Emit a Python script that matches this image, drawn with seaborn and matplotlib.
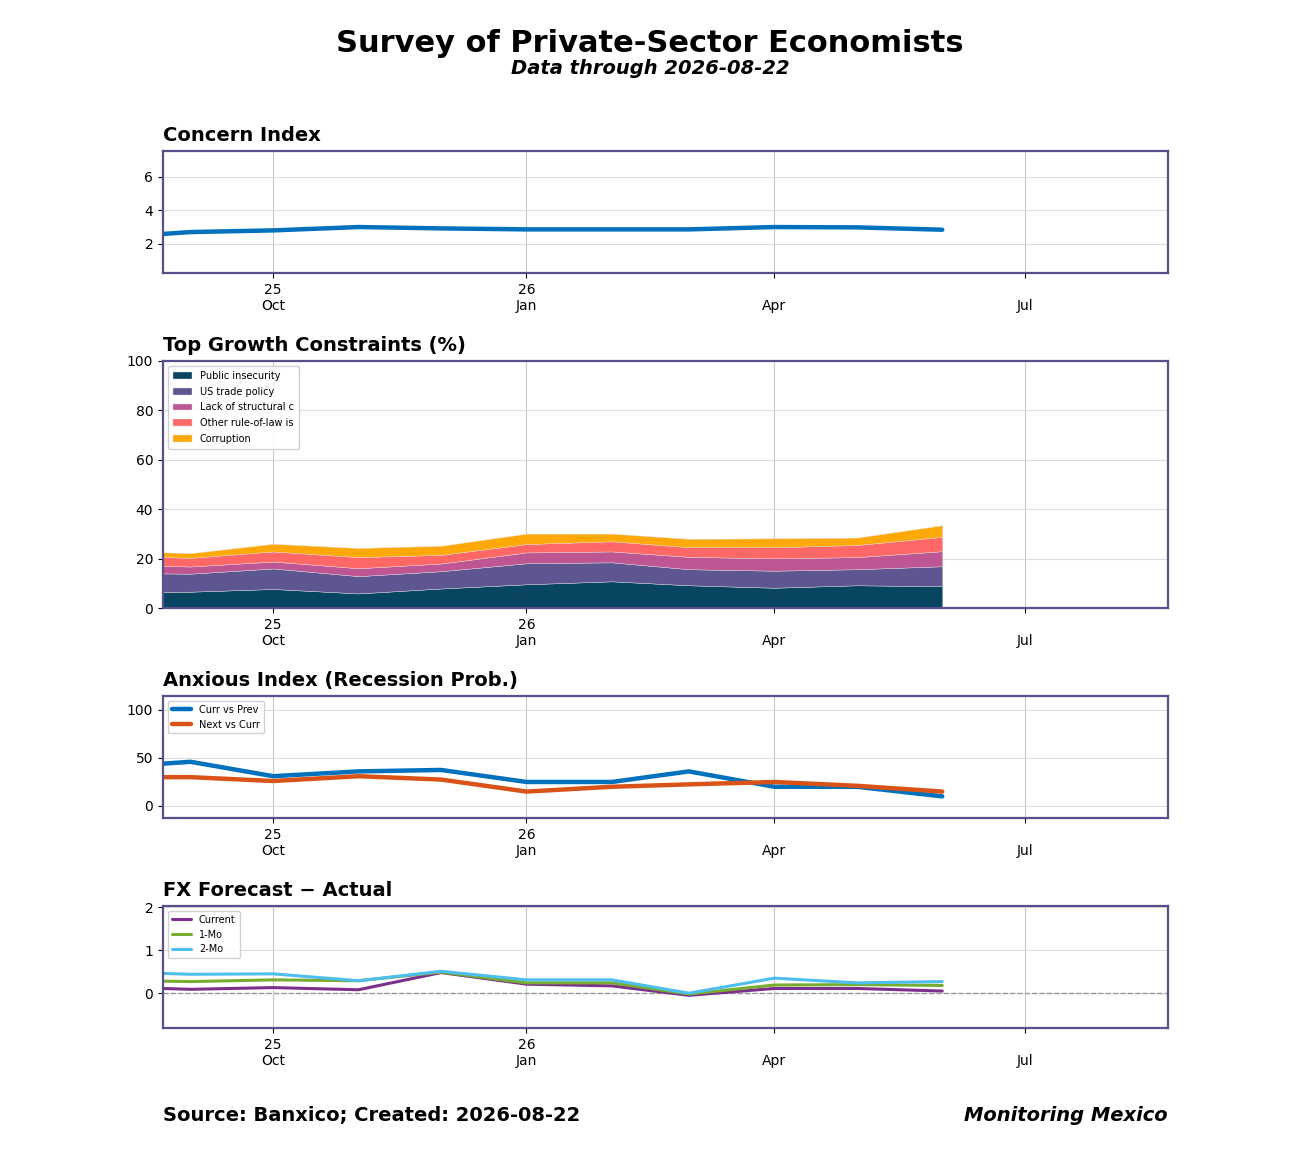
import numpy as np
import pandas as pd
import matplotlib
matplotlib.use("Agg")
import matplotlib.pyplot as plt
import seaborn as sns

# ---------------- data ----------------
dates = ["2025-08-01", "2025-09-01", "2025-10-01", "2025-11-01", "2025-12-01",
         "2026-01-01", "2026-02-01", "2026-03-01", "2026-04-01", "2026-05-01", "2026-06-01"]

concern = [2.35, 2.70, 2.80, 3.00, 2.92, 2.86, 2.86, 2.86, 3.00, 2.98, 2.84]

public_insecurity = [6.3, 6.6, 7.7, 5.9, 7.9, 9.6, 10.8, 9.2, 8.2, 9.2, 8.8]
us_trade_policy   = [7.9, 7.3, 8.3, 7.0, 7.0, 8.5, 7.7, 6.5, 6.9, 6.5, 8.1]
lack_structural   = [3.3, 2.9, 2.8, 3.2, 3.1, 4.4, 4.4, 5.0, 5.0, 4.9, 6.1]
other_rule_of_law = [3.9, 3.5, 4.1, 4.5, 3.5, 3.4, 4.1, 3.9, 4.5, 4.9, 5.8]
corruption        = [1.9, 1.9, 3.1, 3.7, 3.7, 4.2, 3.1, 3.4, 3.6, 3.0, 4.7]
constraint_labels = ["Public insecurity", "US trade policy", "Lack of structural c",
                     "Other rule-of-law is", "Corruption"]

curr_vs_prev = [40, 46, 31, 36, 37.5, 25, 25, 36, 20, 20, 10]
next_vs_curr = [30, 30, 26, 31, 27.5, 15, 20, 22.5, 25, 21, 15]

fx_current = [0.15, 0.09, 0.13, 0.08, 0.48, 0.21, 0.17, -0.05, 0.11, 0.11, 0.05]
fx_1mo     = [0.30, 0.27, 0.31, 0.29, 0.49, 0.24, 0.24, -0.02, 0.19, 0.20, 0.18]
fx_2mo     = [0.50, 0.44, 0.45, 0.29, 0.51, 0.31, 0.31, 0.00, 0.35, 0.24, 0.27]

tick_dates = ["2025-10-01", "2026-01-01", "2026-04-01", "2026-07-01"]
tick_labels = ["25\nOct", "26\nJan", "\nApr", "\nJul"]
x_start, x_end = "2025-08-22", "2026-08-22"

# ---------------- style ----------------
sns.set_theme(style="white")
plt.rcParams["font.family"] = ["DejaVu Sans"]
plt.rcParams["text.color"] = "black"
plt.rcParams["axes.labelcolor"] = "black"
plt.rcParams["axes.titlecolor"] = "black"
plt.rcParams["xtick.color"] = "black"
plt.rcParams["ytick.color"] = "black"

dt = pd.to_datetime(dates)
xt = pd.to_datetime(tick_dates)
frame_color = "#58508d"

fig = plt.figure(figsize=(13, 11.5), dpi=100)
L, W = 0.1254, 0.7731
ax1 = fig.add_axes([L, 0.7626, W, 0.1061])
ax2 = fig.add_axes([L, 0.4713, W, 0.2148])
ax3 = fig.add_axes([L, 0.2887, W, 0.1061])
ax4 = fig.add_axes([L, 0.1061, W, 0.1061])


def style_axis(ax, title):
    ax.set_xlim(pd.Timestamp(x_start), pd.Timestamp(x_end))
    ax.set_xticks(xt)
    ax.set_xticklabels(tick_labels, fontsize=10)
    ax.tick_params(axis="both", which="both", bottom=True, left=True, length=3.5,
                   width=0.8, colors="black", labelsize=10)
    ax.grid(True, axis="y", color="#dddddd", linewidth=0.8)
    ax.grid(True, axis="x", color="#c8c8c8", linewidth=0.8)
    ax.set_axisbelow(True)
    for s in ax.spines.values():
        s.set_visible(True)
        s.set_color(frame_color)
        s.set_linewidth(1.6)
    ax.set_xlabel("")
    ax.set_ylabel("")
    ax.set_title(title, loc="left", fontsize=14, fontweight="bold", pad=7,
                 color="black")


# Panel 1: Concern Index
df1 = pd.DataFrame({"date": dt, "value": concern})
sns.lineplot(data=df1, x="date", y="value", ax=ax1, color="#0072BD", linewidth=3.2)
ax1.set_ylim(0.25, 7.55)
ax1.set_yticks([2, 4, 6])
style_axis(ax1, "Concern Index")

# Panel 2: Top Growth Constraints (stacked area)
stack_colors = ["#003f5c", "#58508d", "#bc5090", "#ff6361", "#ffa600"]
ax2.stackplot(dt, public_insecurity, us_trade_policy, lack_structural,
              other_rule_of_law, corruption, labels=constraint_labels,
              colors=stack_colors, alpha=0.97, linewidth=0.3, edgecolor="#dddddd")
ax2.set_ylim(0, 100)
ax2.set_yticks([0, 20, 40, 60, 80, 100])
style_axis(ax2, "Top Growth Constraints (%)")
ax2.legend(loc="upper left", fontsize=7, frameon=True, framealpha=0.9,
           edgecolor="#cccccc", handlelength=2, borderpad=0.5, labelspacing=0.6)

# Panel 3: Anxious Index
df3 = pd.DataFrame({"date": list(dt) * 2,
                    "value": curr_vs_prev + next_vs_curr,
                    "series": ["Curr vs Prev"] * len(dt) + ["Next vs Curr"] * len(dt)})
sns.lineplot(data=df3, x="date", y="value", hue="series", ax=ax3,
             palette={"Curr vs Prev": "#0072BD", "Next vs Curr": "#D95319"},
             linewidth=3.2)
ax3.set_ylim(-12.5, 114.5)
ax3.set_yticks([0, 50, 100])
style_axis(ax3, "Anxious Index (Recession Prob.)")
ax3.legend(loc="upper left", fontsize=7, frameon=True, framealpha=0.9,
           edgecolor="#cccccc", title=None)

# Panel 4: FX Forecast - Actual
n = len(dt)
df4 = pd.DataFrame({"date": list(dt) * 3,
                    "value": fx_current + fx_1mo + fx_2mo,
                    "series": ["Current"] * n + ["1-Mo"] * n + ["2-Mo"] * n})
sns.lineplot(data=df4, x="date", y="value", hue="series", ax=ax4,
             palette={"Current": "#7E2F8E", "1-Mo": "#77AC30", "2-Mo": "#4DBEEE"},
             linewidth=2.2)
ax4.axhline(0, color="#999999", linestyle="--", linewidth=1.0, zorder=1)
ax4.set_ylim(-0.81, 2.03)
ax4.set_yticks([0, 1, 2])
style_axis(ax4, "FX Forecast \u2212 Actual")
ax4.legend(loc="upper left", fontsize=7, frameon=True, framealpha=0.9,
           edgecolor="#cccccc", title=None)

# Titles and footer
fig.text(0.5, 0.962, "Survey of Private-Sector Economists", ha="center", va="center",
         fontsize=22, fontweight="bold", color="black")
fig.text(0.5, 0.940, "Data through 2026-08-22", ha="center", va="center",
         fontsize=14, fontweight="bold", style="italic", color="black")
fig.text(L, 0.030, "Source: Banxico; Created: 2026-08-22", ha="left", va="center",
         fontsize=14, fontweight="bold", color="black")
fig.text(L + W, 0.030, "Monitoring Mexico", ha="right", va="center",
         fontsize=14, fontweight="bold", style="italic", color="black")

fig.savefig("out.png", dpi=100)
